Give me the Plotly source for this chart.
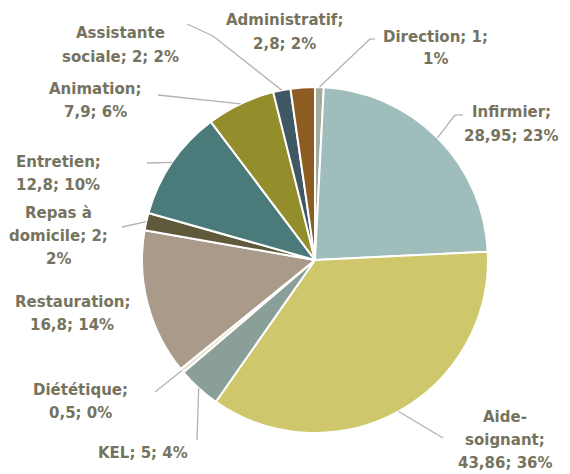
import math
import plotly.graph_objects as go

# Effectifs par métier (ETP), dans l'ordre horaire depuis midi
categories = ["Direction", "Infirmier", "Aide-soignant", "KEL", "Diététique",
              "Restauration", "Repas à domicile", "Entretien", "Animation",
              "Assistante sociale", "Administratif"]
values = [1, 28.95, 43.86, 5, 0.5, 16.8, 2, 12.8, 7.9, 2, 2.8]
value_labels = ["1", "28,95", "43,86", "5", "0,5", "16,8", "2", "12,8", "7,9", "2", "2,8"]
percent_labels = ["1%", "23%", "36%", "4%", "0%", "14%", "2%", "10%", "6%", "2%", "2%"]

colors = ["#a7a99a", "#9fbdbb", "#cfc76b", "#8b9f99", "#e6e1c6", "#a99a89",
          "#5f5a3c", "#4b7a7b", "#948d2c", "#3f5863", "#8c5c22"]

# Découpage des libellés en lignes
label_lines = {
    "Direction": ["Direction; 1;", "1%"],
    "Infirmier": ["Infirmier;", "28,95; 23%"],
    "Aide-soignant": ["Aide-", "soignant;", "43,86; 36%"],
    "KEL": ["KEL; 5; 4%"],
    "Diététique": ["Diététique;", "0,5; 0%"],
    "Restauration": ["Restauration;", "16,8; 14%"],
    "Repas à domicile": ["Repas à", "domicile; 2;", "2%"],
    "Entretien": ["Entretien;", "12,8; 10%"],
    "Animation": ["Animation;", "7,9; 6%"],
    "Assistante sociale": ["Assistante", "sociale; 2; 2%"],
    "Administratif": ["Administratif;", "2,8; 2%"],
}
# Centre de chaque bloc de texte (pixels)
label_pos = {
    "Direction": (435, 48),
    "Infirmier": (511, 124),
    "Aide-soignant": (505, 440),
    "KEL": (143, 453),
    "Diététique": (80, 401),
    "Restauration": (72, 313),
    "Repas à domicile": (58, 236),
    "Entretien": (58, 173),
    "Animation": (95, 100),
    "Assistante sociale": (120, 45),
    "Administratif": (284, 32),
}
# Point d'attache extérieur des traits de rappel (pixels); None = pas de trait
leader_end = {
    "Direction": [(375, 39), (370, 39)],
    "Infirmier": [(463, 115), (455, 115)],
    "Aide-soignant": [(443, 438)],
    "KEL": [(197, 440)],
    "Diététique": [(155, 392)],
    "Restauration": None,
    "Repas à domicile": [(122, 227)],
    "Entretien": [(147, 163)],
    "Animation": [(158, 95)],
    "Assistante sociale": [(187, 24), (213, 36)],
    "Administratif": None,
}

W, H = 570, 474
cx, cy, R = 315, 260, 173
LINE_H = 23

fig = go.Figure(go.Pie(
    labels=categories,
    values=values,
    sort=False,
    direction="clockwise",
    rotation=0,
    marker=dict(colors=colors, line=dict(color="white", width=2)),
    textinfo="none",
    hoverinfo="label+value+percent",
    domain=dict(x=[(cx - R) / W, (cx + R) / W], y=[1 - (cy + R) / H, 1 - (cy - R) / H]),
    showlegend=False,
))

total = sum(values)
cum = 0.0
shapes = []
annotations = []
for name, v in zip(categories, values):
    mid = (cum + v / 2) / total * 2 * math.pi
    cum += v
    ex = cx + R * math.sin(mid)
    ey = cy - R * math.cos(mid)
    pts = leader_end[name]
    if pts:
        path = pts + [(ex, ey)]
        for (x0, y0), (x1, y1) in zip(path[:-1], path[1:]):
            shapes.append(dict(type="line", xref="paper", yref="paper",
                               x0=x0 / W, y0=1 - y0 / H, x1=x1 / W, y1=1 - y1 / H,
                               line=dict(color="#b3b3ae", width=1.3)))
    lx, ly = label_pos[name]
    lines = label_lines[name]
    n = len(lines)
    for i, line in enumerate(lines):
        yy = ly + (i - (n - 1) / 2) * LINE_H
        annotations.append(dict(
            text=line, x=lx / W, y=1 - yy / H, xref="paper", yref="paper",
            showarrow=False, xanchor="center", yanchor="middle", align="center",
            font=dict(family="DejaVu Sans", size=15, color="#75735e", weight="bold"),
        ))

fig.update_layout(
    width=W, height=H,
    margin=dict(l=0, r=0, t=0, b=0),
    paper_bgcolor="white",
    plot_bgcolor="white",
    shapes=shapes,
    annotations=annotations,
)

fig.write_html("out.html")
